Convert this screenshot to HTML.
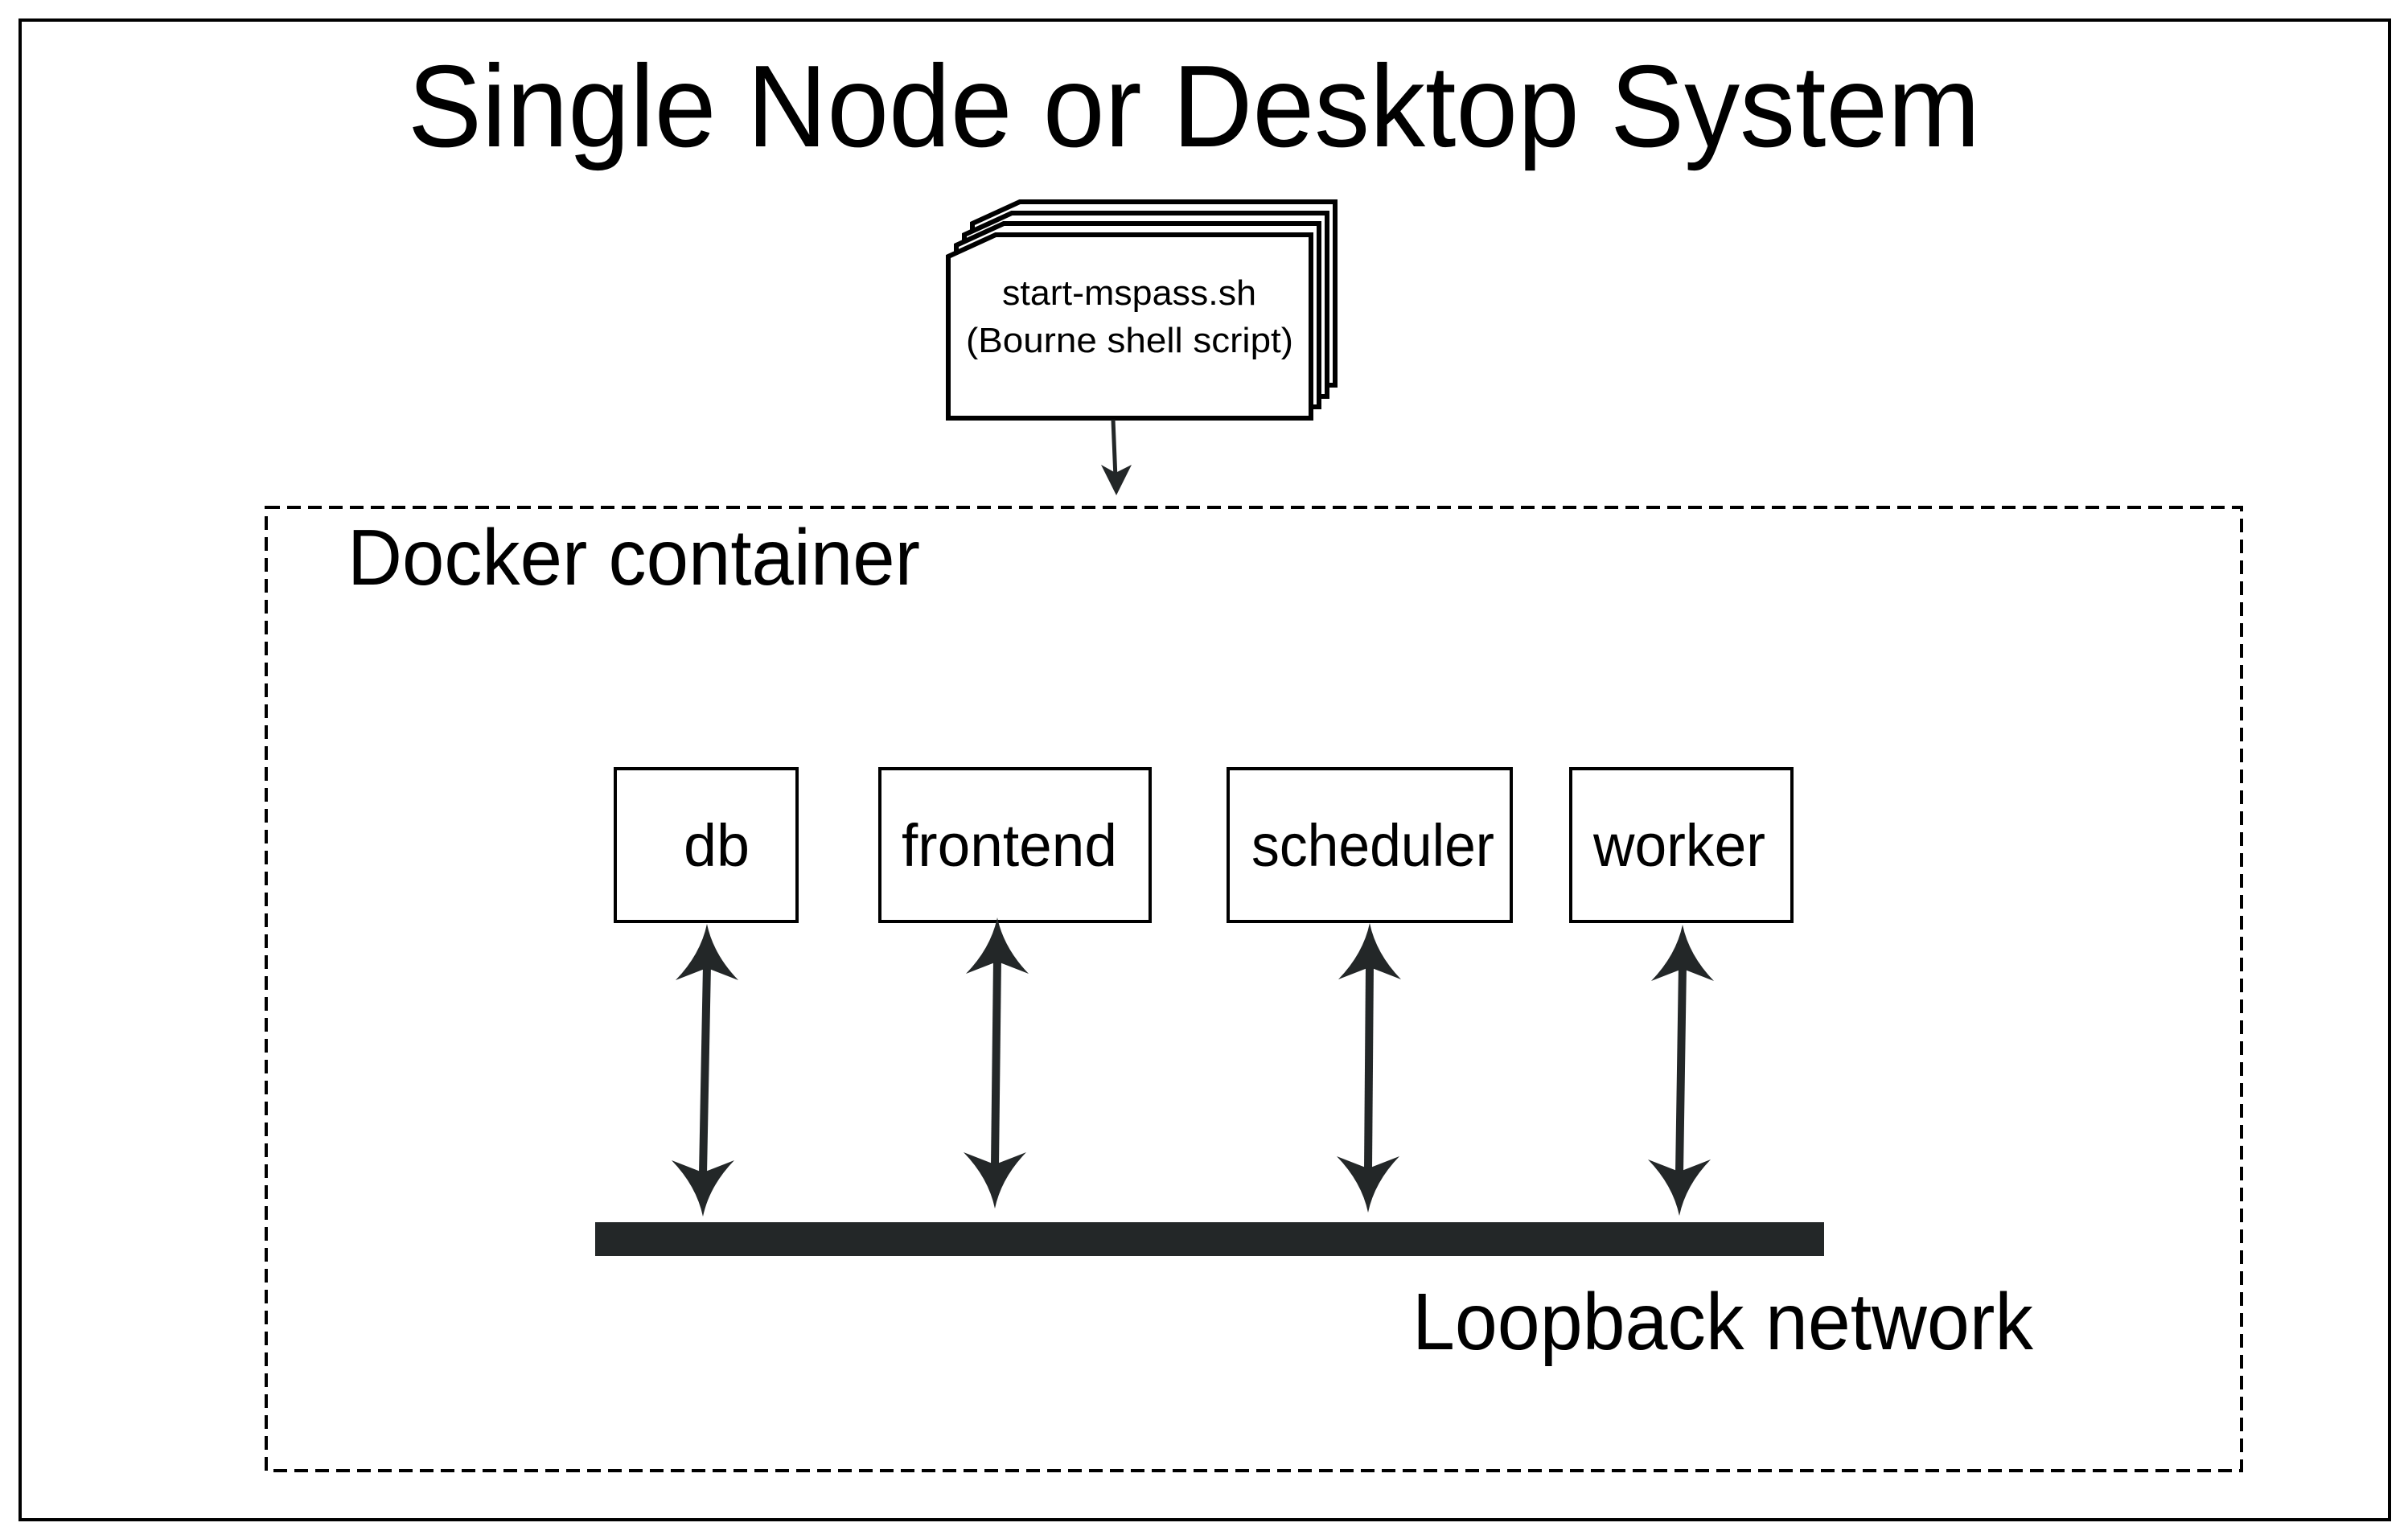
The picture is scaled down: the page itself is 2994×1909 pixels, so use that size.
<!DOCTYPE html>
<html><head><meta charset="utf-8"><style>
html,body{margin:0;padding:0;background:#fff;}
svg{display:block;}
text{font-family:"Liberation Sans",sans-serif;fill:#000;}
</style></head><body>
<svg width="2994" height="1909" viewBox="0 0 2994 1909" xmlns="http://www.w3.org/2000/svg">
<defs>
<path id="hd" d="M0,0 Q8,38 39,70 L3,56 L-3,56 L-39,70 Q-8,38 0,0 Z" fill="#232728"/>
</defs>
<rect x="0" y="0" width="2994" height="1909" fill="#fff"/>
<rect x="25" y="25" width="2946" height="1865" fill="none" stroke="#000" stroke-width="4"/>
<text x="507" y="182" font-size="145" textLength="1955" lengthAdjust="spacingAndGlyphs">Single Node or Desktop System</text>

<g fill="#fff" stroke="#000" stroke-width="6">
<path d="M1209,278 L1268,251 L1660,251 L1660,479 L1209,479 Z"/>
<path d="M1199,292 L1258,265 L1650,265 L1650,493 L1199,493 Z"/>
<path d="M1189,305 L1248,278 L1640,278 L1640,506 L1189,506 Z"/>
<path d="M1179,319 L1238,292 L1630,292 L1630,520 L1179,520 Z"/>
</g>
<text x="1246" y="379" font-size="44" textLength="316" lengthAdjust="spacingAndGlyphs">start-mspass.sh</text>
<text x="1201" y="438" font-size="44" textLength="407" lengthAdjust="spacingAndGlyphs">(Bourne shell script)</text>
<line x1="1384" y1="522" x2="1387" y2="595" stroke="#232728" stroke-width="5"/>
<path d="M1388,616 L1369,578 L1387,588 L1407,578 Z" fill="#232728"/>

<rect x="331" y="631" width="2456" height="1198" fill="none" stroke="#000" stroke-width="4" stroke-dasharray="17,9"/>
<text x="432" y="727" font-size="98" textLength="712" lengthAdjust="spacingAndGlyphs">Docker container</text>

<g fill="#fff" stroke="#000" stroke-width="4">
<rect x="765" y="956" width="226" height="190"/>
<rect x="1094" y="956" width="336" height="190"/>
<rect x="1527" y="956" width="352" height="190"/>
<rect x="1953" y="956" width="275" height="190"/>
</g>
<text x="850" y="1077" font-size="74" textLength="82" lengthAdjust="spacingAndGlyphs">db</text>
<text x="1121" y="1077" font-size="74" textLength="268" lengthAdjust="spacingAndGlyphs">frontend</text>
<text x="1556" y="1077" font-size="74" textLength="302" lengthAdjust="spacingAndGlyphs">scheduler</text>
<text x="1981" y="1077" font-size="74" textLength="214" lengthAdjust="spacingAndGlyphs">worker</text>

<g stroke="#232728" stroke-width="10">
<line x1="879" y1="1200" x2="874" y2="1460"/>
<line x1="1240" y1="1192" x2="1237" y2="1450"/>
<line x1="1703" y1="1200" x2="1701" y2="1455"/>
<line x1="2092" y1="1200" x2="2088" y2="1460"/>
</g>
<use href="#hd" transform="translate(879,1149)"/>
<use href="#hd" transform="translate(874,1513) scale(1,-1)"/>
<use href="#hd" transform="translate(1240,1141)"/>
<use href="#hd" transform="translate(1237,1503) scale(1,-1)"/>
<use href="#hd" transform="translate(1703,1148)"/>
<use href="#hd" transform="translate(1701,1508) scale(1,-1)"/>
<use href="#hd" transform="translate(2092,1150)"/>
<use href="#hd" transform="translate(2088,1512) scale(1,-1)"/>

<rect x="740" y="1520" width="1528" height="42" fill="#232728"/>
<text x="1756" y="1678" font-size="100" textLength="772" lengthAdjust="spacingAndGlyphs">Loopback network</text>
</svg>
</body></html>
